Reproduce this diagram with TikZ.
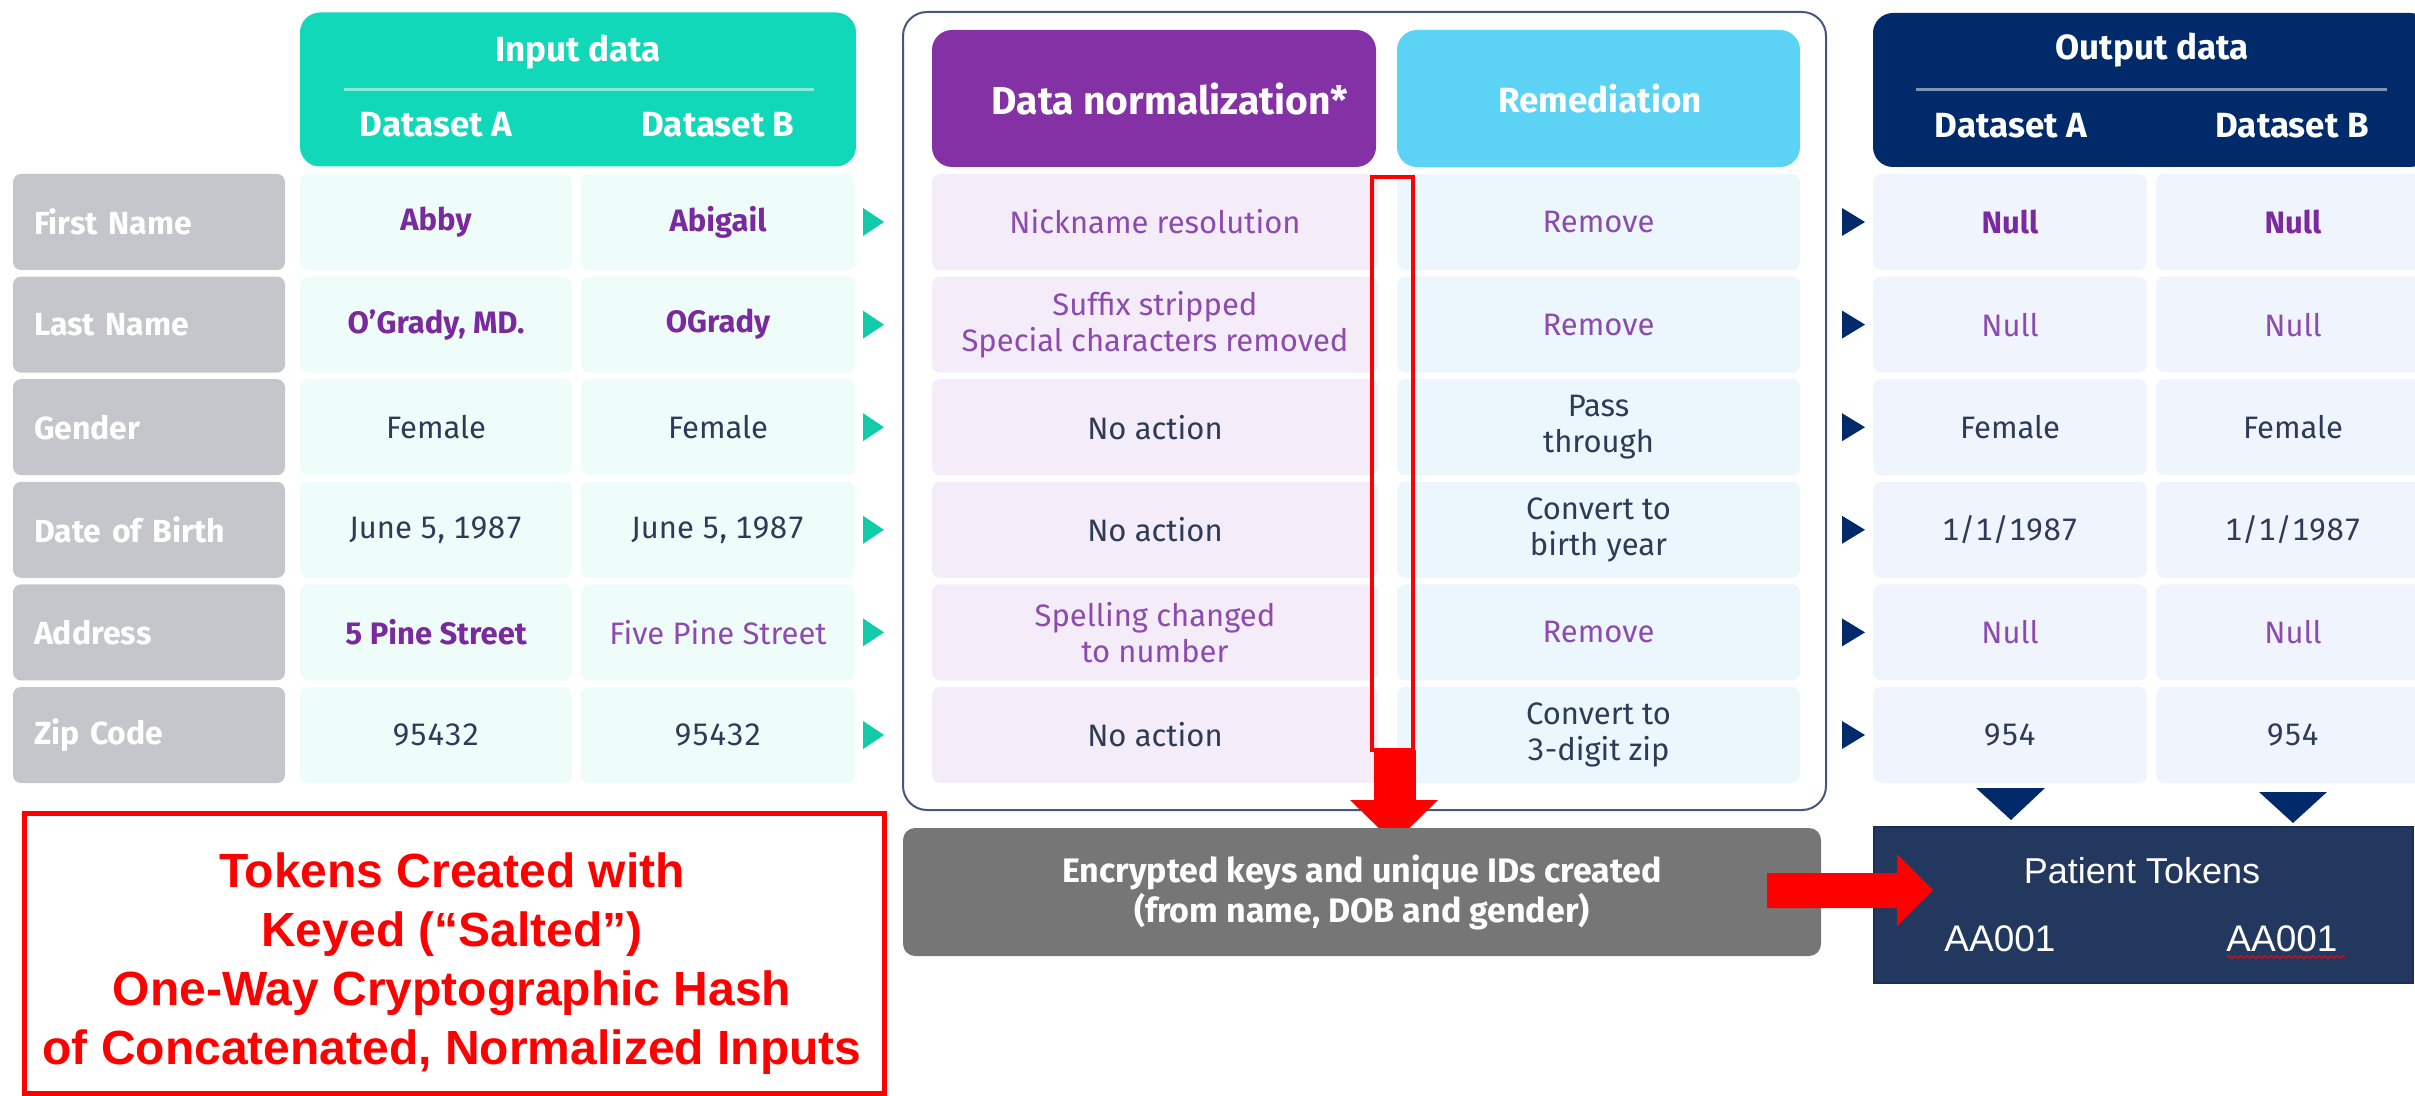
\documentclass[tikz,border=0pt]{standalone}
\usepackage{fontspec}
\setmainfont{Fira Sans}[Numbers={Monospaced,Lining}]
\newfontfamily\arialfont{Liberation Sans}
\usetikzlibrary{decorations.pathmorphing}
\definecolor{cTeal}{HTML}{10D8B8}
\definecolor{cTealTri}{HTML}{12CBA9}
\definecolor{cTealLine}{HTML}{86EBDA}
\definecolor{cMint}{HTML}{EEFCFA}
\definecolor{cLabel}{HTML}{C5C6CB}
\definecolor{cPurpHead}{HTML}{8431A5}
\definecolor{cBlueHead}{HTML}{5CD3F5}
\definecolor{cLav}{HTML}{F4ECF8}
\definecolor{cIce}{HTML}{EBF7FD}
\definecolor{cNavy}{HTML}{012A6A}
\definecolor{cNavyLine}{HTML}{8593B3}
\definecolor{cOut}{HTML}{F0F5FD}
\definecolor{cFrame}{HTML}{46577D}
\definecolor{cGrayBox}{HTML}{757675}
\definecolor{cTok}{HTML}{22385F}
\definecolor{cTokEdge}{HTML}{1B2E52}
\definecolor{cDark}{HTML}{2E3B58}
\definecolor{cPurp}{HTML}{7A2A9E}
\definecolor{cPurpL}{HTML}{8D4AB0}
\definecolor{cRed}{HTML}{FF0000}
\newcommand\pbc{\color{cPurp}\bfseries}
\newcommand\plc{\color{cPurpL}}
\tikzset{
  cellbox/.style={rectangle, rounded corners=4pt, inner sep=0pt, align=center,
    minimum height=48pt, font=\fontsize{15.5}{18}\selectfont, text=cDark},
  lblbox/.style={rectangle, rounded corners=4pt, fill=cLabel, inner xsep=10.5pt, inner ysep=0pt,
    minimum width=136pt, minimum height=48pt, text width=115pt, align=left,
    font=\fontsize{16}{18}\selectfont\bfseries, text=white},
  headbox/.style={rectangle, rounded corners=10pt, inner sep=0pt},
  headtxt/.style={font=\fontsize{17.5}{20}\selectfont\bfseries, text=white, inner sep=0pt},
}
\newcommand\mkrow[9]{%
  \node[lblbox] (lab#1) at (149,#2) {#3};
  \node[cellbox, fill=cMint, minimum width=136pt] (inA#1) at (436,#2) {#4};
  \node[cellbox, fill=cMint, minimum width=137pt] (inB#1) at (718,#2) {#5};
  \node[cellbox, fill=cLav, minimum width=223pt] (norm#1) at (1155,#2) {#6};
  \node[cellbox, fill=cIce, minimum width=201.5pt] (rem#1) at (1598.5,#2) {#7};
  \node[cellbox, fill=cOut, minimum width=137pt] (outA#1) at (2010,#2) {#8};
  \node[cellbox, fill=cOut, minimum width=137pt] (outB#1) at (2293,#2) {#9};
  \fill[cTealTri] (863,#2-14) -- (884,#2) -- (863,#2+14) -- cycle;
  \fill[cNavy] (1842,#2-14) -- (1865,#2) -- (1842,#2+14) -- cycle;
}
\begin{document}
\begin{tikzpicture}[x=0.5pt,y=-0.5pt]
\useasboundingbox (0,0) rectangle (2415,1096);
% frame around processing
\node[draw=cFrame, line width=1pt, rounded corners=12pt, minimum width=461.5pt, minimum height=399pt, inner sep=0pt] (frame) at (1364.5,411) {};
% headers
\node[headbox, fill=cTeal, minimum width=278pt, minimum height=77pt] (inhead) at (578,89.5) {};
\node[headtxt] (intitle) at (578,52) {Input data};
\draw[cTealLine, line width=1.5pt] (344,90) -- (814,90);
\node[headtxt] (inhA) at (436,125) {Dataset A};
\node[headtxt] (inhB) at (718,125) {Dataset B};
\node[headbox, fill=cPurpHead, minimum width=222pt, minimum height=68.5pt] (normhead) at (1154,98.5) {};
\node[headtxt, font=\fontsize{19.5}{22}\selectfont\bfseries] (normtitle) at (1170,99) {Data normalization*};
\node[headbox, fill=cBlueHead, minimum width=201.5pt, minimum height=68.5pt] (remhead) at (1598.5,98.5) {};
\node[headtxt] (remtitle) at (1600,99) {Remediation};
\node[headbox, fill=cNavy, minimum width=278.5pt, minimum height=77pt] (outhead) at (2151.5,90) {};
\node[headtxt] (outtitle) at (2152,50) {Output data};
\draw[cNavyLine, line width=1.5pt] (1916,90) -- (2387,90);
\node[headtxt] (outhA) at (2011,126) {Dataset A};
\node[headtxt] (outhB) at (2292,126) {Dataset B};
% rows
\mkrow{1}{222}{First Name}{\pbc Abby}{\pbc Abigail}{\plc Nickname resolution}{\plc Remove}{\pbc Null}{\pbc Null}
\mkrow{2}{324.6}{Last Name}{\pbc O’Grady, MD.}{\pbc OGrady}{\plc Suffix stripped\\\plc Special characters removed}{\plc Remove}{\plc Null}{\plc Null}
\mkrow{3}{427.2}{Gender}{Female}{Female}{No action}{Pass\\through}{Female}{Female}
\mkrow{4}{529.8}{Date of Birth}{June 5, 1987}{June 5, 1987}{No action}{Convert to\\birth year}{1/1/1987}{1/1/1987}
\mkrow{5}{632.4}{Address}{\pbc 5 Pine Street}{\plc Five Pine Street}{\plc Spelling changed\\\plc to number}{\plc Remove}{\plc Null}{\plc Null}
\mkrow{6}{735}{Zip Code}{\raisebox{-3pt}{95432}}{95432}{No action}{Convert to\\3-digit zip}{\raisebox{-2pt}{954}}{954}
% red down arrow
\draw[cRed, line width=2pt] (1372,177) rectangle (1413,750);
\fill[cRed] (1374,750) rectangle (1416,800);
\fill[cRed] (1350,800) -- (1438,800) -- (1394,843) -- cycle;
% gray box
\node[rectangle, rounded corners=6pt, fill=cGrayBox, minimum width=459pt, minimum height=64pt, inner sep=0pt,
  align=center, text=white, font=\fontsize{17}{20}\selectfont\bfseries] (enc) at (1362,892)
  {Encrypted keys and unique IDs created\\(from name, DOB and gender)};
% down triangles
\fill[cNavy] (1976,788) -- (2045,788) -- (2011,820) -- cycle;
\fill[cNavy] (2259,792) -- (2327,792) -- (2293,823) -- cycle;
% tokens box
\node[rectangle, fill=cTok, draw=cTokEdge, line width=1pt, minimum width=269.5pt, minimum height=78pt, inner sep=0pt] (tok) at (2143.5,905) {};
\node[text=white, font=\arialfont\fontsize{18}{21}\selectfont, inner sep=0pt] (toktitle) at (2142,871) {Patient Tokens};
\node[text=white, font=\arialfont\fontsize{18.5}{21}\selectfont, inner sep=0pt] (tokA) at (2000,939) {AA001};
\node[text=white, font=\arialfont\fontsize{18.5}{21}\selectfont, inner sep=0pt] (tokB) at (2282,939) {AA001};
\draw[cRed, line width=0.5pt, decorate, decoration={snake, amplitude=0.7pt, segment length=3pt}] (2227,957) -- (2345,957);
% red right arrow
\fill[cRed] (1767,873) -- (1897,873) -- (1897,854) -- (1933,890) -- (1897,926) -- (1897,908) -- (1767,908) -- cycle;
% red note box
\node[draw=cRed, line width=2.5pt, minimum width=430pt, minimum height=140pt, inner sep=0pt] (note) at (454,953) {};
\node[align=center, inner sep=0pt, text=cRed, font=\arialfont\bfseries\fontsize{24}{29.5}\selectfont] (notetxt) at (452,964)
  {Tokens Created with\\Keyed (“Salted”)\\One-Way Cryptographic Hash\\of Concatenated, Normalized Inputs};
\end{tikzpicture}
\end{document}
